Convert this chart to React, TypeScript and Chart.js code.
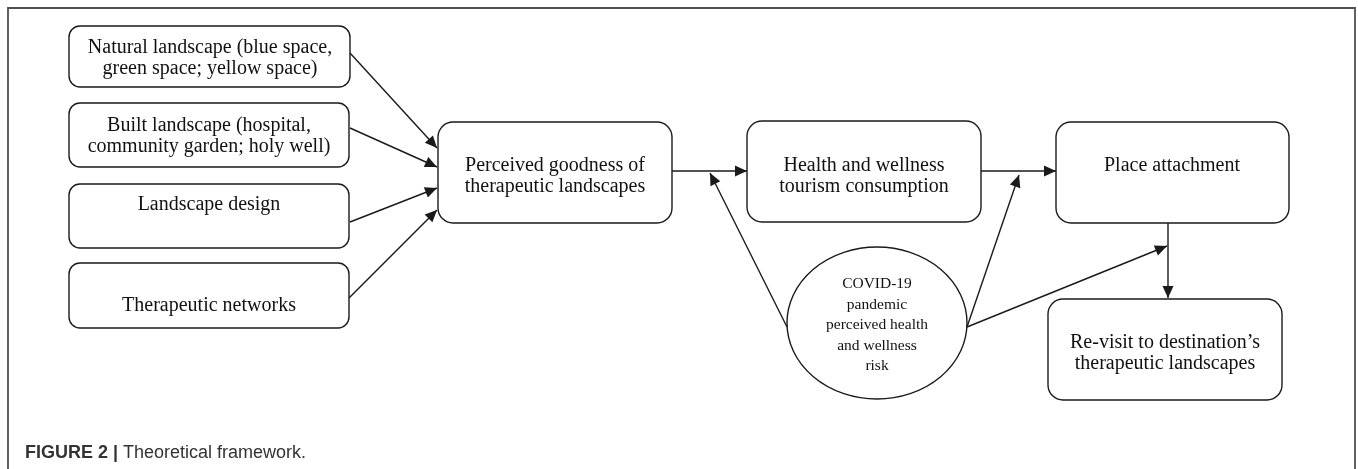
import React, { useEffect, useRef } from "react";
import { Chart, registerables } from "chart.js";

Chart.register(...registerables);

const W = 1358;
const H = 469;

// ---- content ----
const boxLabels: string[][] = [
  ["Natural landscape (blue space,", "green space; yellow space)"],
  ["Built landscape (hospital,", "community garden; holy well)"],
  ["Landscape design"],
  ["Therapeutic networks"],
  ["Perceived goodness of", "therapeutic landscapes"],
  ["Health and wellness", "tourism consumption"],
  ["Place attachment"],
  ["Re-visit to destination\u2019s", "therapeutic landscapes"],
];
const ellipseLabel: string[] = ["COVID-19", "pandemic", "perceived health", "and wellness", "risk"];
const captionBold = "FIGURE 2 |";
const captionText = " Theoretical framework.";

// ---- layout (chart units) ----
// [x1, y1, x2, y2, cornerRadius]
const boxRects: number[][] = [
  [69, 26, 350, 87, 11],
  [69, 103, 349, 167, 11],
  [69, 184, 349, 248, 11],
  [69, 263, 349, 328, 11],
  [438, 122, 672, 223, 15],
  [747, 121, 981, 222, 15],
  [1056, 122, 1289, 223, 15],
  [1048, 299, 1282, 400, 15],
];
// [centerX, firstLineCenterY]
const boxTextPos: number[][] = [
  [210, 48],
  [209, 126],
  [209, 205],
  [209, 306],
  [555, 166],
  [864, 166],
  [1172, 166],
  [1165, 343],
];
const ellipseGeom = { cx: 877, cy: 323, rx: 90, ry: 76 };
const ellipseTextTop = 284;

// arrows: [x1, y1] -> [x2, y2] (tip)
const arrowFromX = [350, 350, 350, 349, 672, 787, 981, 967, 967, 1168];
const arrowFromY = [53, 128, 222, 298, 171, 327, 171, 327, 327, 223];
const arrowToX = [437, 437, 437, 437, 747, 710, 1056, 1019, 1167, 1168];
const arrowToY = [148, 167, 188, 210, 171, 173, 171, 175, 246, 298];

const LINE = "#1a1a1a";
const TEXT = "#111111";
const FRAME = "#505050";
const SERIF = "'Liberation Serif', 'Times New Roman', serif";
const SANS = "'Liberation Sans', Arial, sans-serif";

export default function App() {
  const ref = useRef<HTMLCanvasElement>(null);

  useEffect(() => {
    const canvas = ref.current;
    if (!canvas) return;

    const diagram = {
      id: "diagram",
      beforeDatasetsDraw(chart: any) {
        const ctx = chart.ctx as CanvasRenderingContext2D;
        const X = (v: number) => chart.scales.x.getPixelForValue(v);
        const Y = (v: number) => chart.scales.y.getPixelForValue(v);
        ctx.save();
        // frame
        ctx.strokeStyle = FRAME;
        ctx.lineWidth = 1.8;
        ctx.beginPath();
        ctx.moveTo(X(8), Y(H + 5));
        ctx.lineTo(X(8), Y(8));
        ctx.lineTo(X(1355), Y(8));
        ctx.lineTo(X(1355), Y(H + 5));
        ctx.stroke();

        // boxes
        ctx.strokeStyle = LINE;
        ctx.lineWidth = 1.4;
        ctx.fillStyle = "#ffffff";
        boxRects.forEach((b) => {
          const x1 = X(b[0]), y1 = Y(b[1]), x2 = X(b[2]), y2 = Y(b[3]);
          const r = b[4];
          ctx.beginPath();
          ctx.moveTo(x1 + r, y1);
          ctx.lineTo(x2 - r, y1);
          ctx.arcTo(x2, y1, x2, y1 + r, r);
          ctx.lineTo(x2, y2 - r);
          ctx.arcTo(x2, y2, x2 - r, y2, r);
          ctx.lineTo(x1 + r, y2);
          ctx.arcTo(x1, y2, x1, y2 - r, r);
          ctx.lineTo(x1, y1 + r);
          ctx.arcTo(x1, y1, x1 + r, y1, r);
          ctx.closePath();
          ctx.fill();
          ctx.stroke();
        });

        // ellipse
        ctx.beginPath();
        ctx.ellipse(X(ellipseGeom.cx), Y(ellipseGeom.cy), ellipseGeom.rx, ellipseGeom.ry, 0, 0, Math.PI * 2);
        ctx.fill();
        ctx.stroke();
        ctx.restore();
      },
      afterDatasetsDraw(chart: any) {
        const ctx = chart.ctx as CanvasRenderingContext2D;
        const X = (v: number) => chart.scales.x.getPixelForValue(v);
        const Y = (v: number) => chart.scales.y.getPixelForValue(v);
        ctx.save();
        // arrowheads from dataset geometry
        ctx.fillStyle = LINE;
        chart.data.datasets.forEach((_: any, i: number) => {
          const meta = chart.getDatasetMeta(i);
          const pts = meta.data;
          if (pts.length < 2) return;
          const a = pts[pts.length - 2];
          const b = pts[pts.length - 1];
          const ang = Math.atan2(b.y - a.y, b.x - a.x);
          const len = 12;
          const half = 5.5;
          const bx = b.x - len * Math.cos(ang);
          const by = b.y - len * Math.sin(ang);
          ctx.beginPath();
          ctx.moveTo(b.x, b.y);
          ctx.lineTo(bx + half * Math.sin(ang), by - half * Math.cos(ang));
          ctx.lineTo(bx - half * Math.sin(ang), by + half * Math.cos(ang));
          ctx.closePath();
          ctx.fill();
        });

        // box texts
        ctx.fillStyle = TEXT;
        ctx.textAlign = "center";
        ctx.textBaseline = "middle";
        ctx.font = `20px ${SERIF}`;
        boxLabels.forEach((lines, i) => {
          const p = boxTextPos[i];
          lines.forEach((t, j) => {
            ctx.fillText(t, X(p[0]), Y(p[1] + j * 21));
          });
        });
        // ellipse text
        ctx.font = `15.5px ${SERIF}`;
        ellipseLabel.forEach((t, j) => {
          ctx.fillText(t, X(ellipseGeom.cx), Y(ellipseTextTop + j * 20.5));
        });

        // caption
        ctx.textAlign = "left";
        ctx.textBaseline = "alphabetic";
        ctx.fillStyle = "#333333";
        ctx.font = `bold 18px ${SANS}`;
        const cx0 = X(25);
        const cy0 = Y(457.5);
        ctx.fillText(captionBold, cx0, cy0);
        const w = ctx.measureText(captionBold).width;
        ctx.font = `18px ${SANS}`;
        ctx.fillText(captionText, cx0 + w, cy0);
        ctx.restore();
      },
    };

    const datasets = arrowFromX.map((_, i) => ({
      label: `edge${i}`,
      data: [
        { x: arrowFromX[i], y: arrowFromY[i] },
        { x: arrowToX[i], y: arrowToY[i] },
      ],
      showLine: true,
      borderColor: LINE,
      borderWidth: 1.4,
      pointRadius: 0,
      pointHoverRadius: 0,
      fill: false,
    }));

    const chart = new Chart(canvas, {
      type: "scatter",
      data: { datasets },
      options: {
        animation: false,
        responsive: false,
        maintainAspectRatio: false,
        events: [],
        layout: { padding: 0, autoPadding: false } as any,
        plugins: { legend: { display: false }, tooltip: { enabled: false } },
        scales: {
          x: { type: "linear", min: 0, max: W, display: false },
          y: { type: "linear", min: 0, max: H, reverse: true, display: false },
        },
      },
      plugins: [diagram],
    });
    return () => chart.destroy();
  }, []);

  return (
    <div style={{ position: "absolute", left: 0, top: 0, width: W, height: H, background: "#fff" }}>
      <canvas ref={ref} width={W} height={H} style={{ display: "block", width: W, height: H }} />
    </div>
  );
}
